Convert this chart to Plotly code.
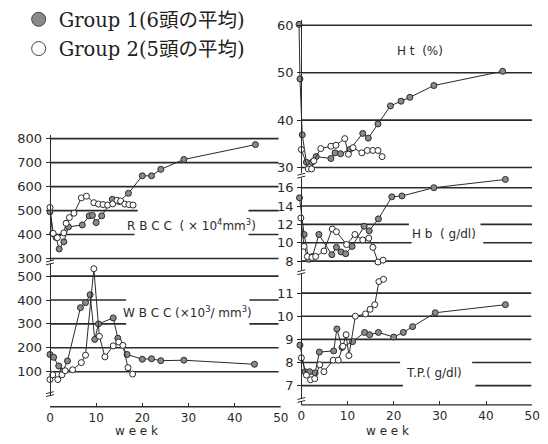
import plotly.graph_objects as go

W, H = 548, 444

# ---------------- data (weeks / values) ----------------
rbcc_g1_w = [0, 0.6, 1.3, 2, 3, 4, 7, 8.5, 9.2, 10, 11.2, 13.5, 15, 17, 20, 22, 24, 29, 44.5]
rbcc_g1_v = [495, 405, 388, 340, 370, 432, 440, 478, 480, 450, 478, 547, 538, 572, 645, 645, 672, 713, 775]
rbcc_g2_w = [0, 0.7, 1.6, 3, 3.5, 4.2, 5.2, 6.8, 7.9, 9.5, 10.5, 11.5, 12.5, 13.6, 14.5, 15.3, 16.2, 17.1, 18]
rbcc_g2_v = [513, 405, 387, 407, 447, 471, 489, 553, 560, 533, 527, 525, 523, 528, 543, 540, 527, 525, 523]

wbcc_g1_w = [0, 0.8, 1.9, 2.8, 3.8, 6.6, 7.7, 8.7, 9.7, 10.5, 13.7, 14.7, 16.7, 20, 22, 24, 29, 44.3]
wbcc_g1_v = [172, 160, 124, 102, 145, 368, 389, 422, 235, 300, 325, 240, 172, 152, 154, 146, 148, 131]
wbcc_g2_w = [0, 0.6, 1.7, 2.6, 3.3, 4.9, 6.8, 7.7, 9.5, 10.7, 11.9, 13.7, 14.9, 15.8, 16.9, 17.9]
wbcc_g2_v = [67, 87, 67, 87, 104, 108, 138, 169, 531, 248, 162, 208, 224, 210, 117, 90]

ht_g1_w = [-0.5, -0.3, 0.2, 1.1, 2.3, 3.2, 6.4, 7.3, 8.5, 10.5, 13.3, 14.5, 16.6, 19.3, 21.6, 23.5, 28.7, 43.6]
ht_g1_v = [60.2, 48.7, 36.9, 31.1, 31.1, 32.3, 31.9, 33.1, 32.9, 33.8, 37.2, 36.2, 39.2, 43.0, 44.0, 44.8, 47.3, 50.3]
ht_g2_w = [0, 1.5, 2.2, 2.7, 4.2, 6.4, 7.5, 9.4, 10.2, 11.2, 13.1, 14.3, 15.5, 16.6, 17.5]
ht_g2_v = [33.8, 29.7, 29.7, 31.4, 34.0, 34.5, 34.7, 36.1, 32.8, 34.2, 33.1, 33.6, 33.6, 33.6, 32.3]

hb_g1_w = [-0.4, 0.6, 1.6, 2.4, 3.8, 6.6, 7.6, 8.6, 9.6, 11, 13.6, 14.7, 16.7, 19.6, 21.8, 28.7, 44.2]
hb_g1_v = [14.9, 10.9, 8.2, 8.5, 10.9, 8.7, 9.5, 9.0, 8.8, 9.6, 11.8, 11.3, 12.6, 15.0, 15.1, 16.0, 16.9]
hb_g2_w = [-0.1, 0.6, 1.3, 2.3, 3.1, 4.9, 6.7, 7.6, 9.8, 11.6, 13.3, 14.6, 15.5, 16.6, 17.7]
hb_g2_v = [12.7, 9.6, 8.5, 8.4, 8.5, 9.1, 11.5, 11.2, 9.8, 10.9, 10.3, 10.5, 9.5, 7.9, 8.1]

tp_g1_w = [-0.3, 0.8, 1.8, 3.0, 3.9, 7.0, 7.7, 8.8, 11.1, 13.7, 14.8, 16.7, 20, 22.1, 24.1, 29, 44.2]
tp_g1_v = [8.75, 7.6, 7.6, 7.55, 8.45, 8.5, 9.45, 8.65, 8.9, 9.3, 9.2, 9.3, 9.1, 9.3, 9.55, 10.15, 10.5]
tp_g2_w = [0, 1.1, 2.0, 2.9, 4.0, 4.9, 6.9, 8.0, 9.0, 9.7, 10.3, 11.7, 13.9, 14.9, 15.9, 16.8, 17.8]
tp_g2_v = [8.2, 7.45, 7.25, 7.3, 7.9, 7.6, 8.1, 8.1, 8.7, 9.2, 8.3, 10.0, 10.1, 10.3, 10.5, 11.5, 11.6]

x_ticks = [0, 10, 20, 30, 40, 50]
rbcc_ticks = [300, 400, 500, 600, 700, 800]
wbcc_ticks = [100, 200, 300, 400, 500]
ht_ticks = [30, 40, 50, 60]
hb_ticks = [8, 10, 12, 14, 16]
tp_ticks = [7, 8, 9, 10, 11]

# gridline segments per panel: (value, [(x0,x1), ...])
rbcc_grid = [(800, [(0, 49.5)]), (700, [(0, 49.5)]), (600, [(0, 49.5)]),
             (500, [(0, 19), (43, 49.5)]), (400, [(0, 18.3), (43, 49.5)]), (300, [(0, 49.5)])]
wbcc_grid = [(500, [(0, 49.5)]), (400, [(0, 16.5), (43.2, 49.5)]),
             (300, [(0, 16.5), (43.2, 49.5)]), (200, [(0, 49.5)]), (100, [(0, 49.5)])]
ht_grid = [(60, [(0, 50)]), (50, [(0, 50)]), (40, [(0, 50)]), (30, [(0, 50)])]
hb_grid = [(16, [(0, 50)]), (14, [(0, 50)]), (12, [(0, 23.3), (38.8, 50)]),
           (10, [(0, 23.9), (39.4, 50)]), (8, [(0, 50)])]
tp_grid = [(11, [(0, 49.8)]), (10, [(0, 49.8)]), (9, [(0, 49.8)]),
           (8, [(0, 21.4), (37, 49.8)]), (7, [(0, 22), (37.7, 49.8)])]

# ---------------- helpers ----------------
def px(x):
    return x / W

def py(y):
    return 1 - y / H

INK = "#2a2a2a"
TICKFONT = dict(family="DejaVu Sans", size=13, color=INK)
XTICKFONT = dict(family="DejaVu Sans", size=12, color=INK)

fig = go.Figure()

def add_pair(xa, ya, w1, v1, w2, v2):
    fig.add_trace(go.Scatter(x=w1, y=v1, xaxis=xa, yaxis=ya, mode="lines+markers",
                             line=dict(color=INK, width=1),
                             marker=dict(size=6, color="#8a8a8a", line=dict(color=INK, width=1)),
                             cliponaxis=False, showlegend=False))
    fig.add_trace(go.Scatter(x=w2, y=v2, xaxis=xa, yaxis=ya, mode="lines+markers",
                             line=dict(color=INK, width=1),
                             marker=dict(size=6, color="white", line=dict(color=INK, width=1)),
                             cliponaxis=False, showlegend=False))

add_pair("x", "y", rbcc_g1_w, rbcc_g1_v, rbcc_g2_w, rbcc_g2_v)
add_pair("x", "y2", wbcc_g1_w, wbcc_g1_v, wbcc_g2_w, wbcc_g2_v)
add_pair("x2", "y3", ht_g1_w, ht_g1_v, ht_g2_w, ht_g2_v)
add_pair("x2", "y4", hb_g1_w, hb_g1_v, hb_g2_w, hb_g2_v)
add_pair("x2", "y5", tp_g1_w, tp_g1_v, tp_g2_w, tp_g2_v)

# legend entries
fig.add_trace(go.Scatter(x=[None], y=[None], mode="markers", name="Group 1(6頭の平均)",
                         marker=dict(size=14, color="#8a8a8a", line=dict(color="#444", width=1)),
                         legend="legend"))
fig.add_trace(go.Scatter(x=[None], y=[None], mode="markers", name="Group 2(5頭の平均)",
                         marker=dict(size=14, color="white", line=dict(color="#444", width=1)),
                         legend="legend2"))

shapes = []
def grid(xr, yr, spec):
    for val, segs in spec:
        for a, b in segs:
            shapes.append(dict(type="line", xref=xr, yref=yr, x0=a, x1=b, y0=val, y1=val,
                               line=dict(color=INK, width=1.6), layer="below"))

grid("x", "y", rbcc_grid)
grid("x", "y2", wbcc_grid)
grid("x2", "y3", ht_grid)
grid("x2", "y4", hb_grid)
grid("x2", "y5", tp_grid)

# x-axis baselines
shapes.append(dict(type="line", xref="x", yref="paper", x0=0, x1=50, y0=py(412), y1=py(412),
                   line=dict(color=INK, width=1.4)))
shapes.append(dict(type="line", xref="x2", yref="paper", x0=0, x1=50, y0=py(410), y1=py(410),
                   line=dict(color=INK, width=1.4)))

# axis break marks
def brk(xp, yp):
    for d in (-1.5, 1.5):
        shapes.append(dict(type="line", xref="paper", yref="paper",
                           x0=px(xp - 4), x1=px(xp + 4), y0=py(yp + d + 1), y1=py(yp + d - 1),
                           line=dict(color=INK, width=1)))

brk(47, 264)
brk(47, 399)
brk(304, 175)
brk(304, 274)
brk(304, 405)

# ---------------- axes ----------------
def yax(dom_px, rng, ticks, xpos):
    return dict(domain=[py(dom_px[1]), py(dom_px[0])], range=rng, tickvals=ticks,
                anchor="free", position=px(xpos), showline=True, linecolor=INK, linewidth=1.4,
                ticks="outside", ticklen=4, tickcolor=INK, tickwidth=1.2,
                showgrid=False, zeroline=False, tickfont=TICKFONT, ticklabelstandoff=1)

def xax(dom, rng, ypos):
    return dict(domain=dom, range=rng, tickvals=x_ticks, anchor="free",
                position=py(ypos), showline=False, ticks="inside", ticklen=4, tickcolor=INK,
                tickwidth=1.2, showgrid=False, zeroline=False, tickfont=XTICKFONT,
                ticklabelstandoff=2)

LEGFONT = dict(family="DejaVu Serif, Noto Sans CJK JP", size=19.5, color="#222")

fig.update_layout(
    width=W, height=H, margin=dict(l=0, r=0, t=0, b=0),
    paper_bgcolor="white", plot_bgcolor="rgba(0,0,0,0)",
    xaxis=xax([px(47), px(283)], [0, 50], 412),
    xaxis2=xax([px(304 - 4.72), px(540)], [-1, 50], 410),
    yaxis=yax((133, 262), [291.9, 816.3], rbcc_ticks, 47),
    yaxis2=yax((266, 400), [2, 549], wbcc_ticks, 47),
    yaxis3=yax((15, 172), [28.9, 61.2], ht_ticks, 304),
    yaxis4=yax((177, 272), [7.0, 17.1], hb_ticks, 304),
    yaxis5=yax((276, 404), [6.42, 11.82], tp_ticks, 304),
    shapes=shapes,
    legend=dict(x=px(15), y=py(-5), xanchor="left", yanchor="top", bgcolor="rgba(0,0,0,0)",
                font=LEGFONT, itemsizing="trace"),
    legend2=dict(x=px(15), y=py(25), xanchor="left", yanchor="top", bgcolor="rgba(0,0,0,0)",
                 font=LEGFONT, itemsizing="trace"),
)

LBL = dict(family="DejaVu Sans", size=12, color=INK)
ann = [
    ("R B C C  ( × 10<sup>4</sup>mm<sup>3</sup>)", 192, 226),
    ("W B C C (×10<sup>3</sup>/ mm<sup>3</sup>)", 188, 315),
    ("H t  (%)", 425, 47),
    ("H b  ( g/dl)", 450, 235),
    ("T.P.( g/dl)", 440, 377),
    ("w e e k", 135, 437),
    ("w e e k", 392, 437),
]
fig.update_layout(annotations=[dict(text=t, x=px(x), y=py(y), xref="paper", yref="paper",
                                    showarrow=False, font=LBL, xanchor="center", yanchor="middle")
                               for t, x, y in ann])

fig.write_html("out.html")
